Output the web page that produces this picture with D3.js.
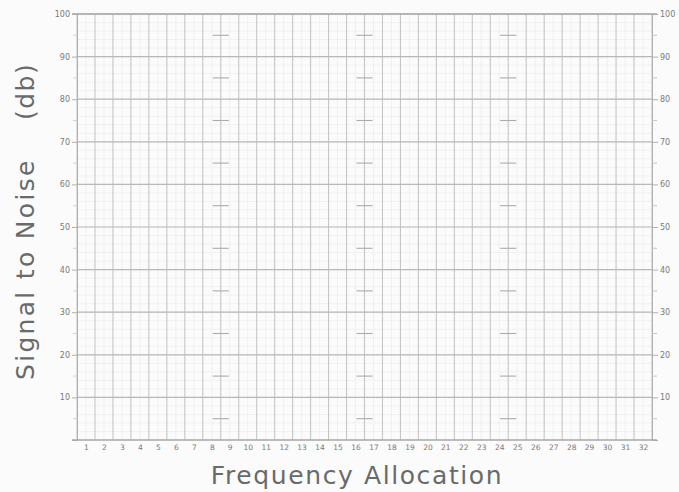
<!DOCTYPE html>
<html>
<head>
<meta charset="utf-8">
<script src="https://cdn.jsdelivr.net/npm/d3@7"></script>
<style>
  html, body { margin: 0; padding: 0; background: #fbfbfb; }
  svg { display: block; }
</style>
</head>
<body>
<div id="chart"></div>
<script>
// chart values
var channels = [1, 2, 3, 4, 5, 6, 7, 8, 9, 10, 11, 12, 13, 14, 15, 16,
                17, 18, 19, 20, 21, 22, 23, 24, 25, 26, 27, 28, 29, 30, 31, 32];
var dbTicks = [10, 20, 30, 40, 50, 60, 70, 80, 90, 100];
var dbMinorTicks = [5, 15, 25, 35, 45, 55, 65, 75, 85, 95];
var markerChannels = [8, 16, 24];   // dashes sit on the line after these channels
var xTitle = "Frequency Allocation";
var yTitle = "Signal to Noise";
var yUnit = "(db)";

var width = 679, height = 492;
var margin = {top: 14, right: 27, bottom: 52, left: 77};

var x = d3.scaleLinear()
    .domain([0, channels.length])
    .range([margin.left, width - margin.right]);
var y = d3.scaleLinear()
    .domain([0, 100])
    .range([height - margin.bottom, margin.top]);

var svg = d3.select("#chart").append("svg")
    .attr("width", width)
    .attr("height", height)
    .attr("viewBox", [0, 0, width, height]);

var tickFont = "DejaVu Sans, sans-serif";
var ink = "#7a7a7a";

// faint minor grid
var g = svg.append("g");
g.selectAll("line.vminor")
    .data(channels)
    .join("line")
    .attr("x1", d => x(d - 0.5)).attr("x2", d => x(d - 0.5))
    .attr("y1", y(100)).attr("y2", y(0))
    .attr("stroke", "#f0f0f0").attr("stroke-width", 1);
g.selectAll("line.hminor")
    .data(d3.range(0, 100, 2))
    .join("line")
    .attr("x1", x(0)).attr("x2", x(channels.length))
    .attr("y1", d => y(d)).attr("y2", d => y(d))
    .attr("stroke", "#f1f1f1").attr("stroke-width", 1);

// column lines
g.selectAll("line.col")
    .data([0].concat(channels))
    .join("line")
    .attr("x1", d => x(d)).attr("x2", d => x(d))
    .attr("y1", y(100)).attr("y2", y(0))
    .attr("stroke", "#c6c6c6").attr("stroke-width", 1.1);

// decade lines
g.selectAll("line.row")
    .data(dbTicks)
    .join("line")
    .attr("x1", x(0)).attr("x2", x(channels.length))
    .attr("y1", d => y(d)).attr("y2", d => y(d))
    .attr("stroke", "#b8b8b8").attr("stroke-width", 1.2);

// left axis
var left = svg.append("g")
    .attr("transform", `translate(${x(0)},0)`)
    .call(d3.axisLeft(y).tickValues(dbTicks).tickSize(5).tickPadding(2));
left.select(".domain").attr("stroke", "#b0b0b0");
left.selectAll(".tick line").attr("stroke", "#b0b0b0");
left.selectAll("text").attr("fill", ink).style("font", "8px " + tickFont);
left.selectAll("line.minor")
    .data(dbMinorTicks)
    .join("line")
    .attr("x1", -4).attr("x2", 0)
    .attr("y1", d => y(d)).attr("y2", d => y(d))
    .attr("stroke", "#d4d4d4");

// right axis
var right = svg.append("g")
    .attr("transform", `translate(${x(channels.length)},0)`)
    .call(d3.axisRight(y).tickValues(dbTicks).tickSize(6).tickPadding(2));
right.select(".domain").attr("stroke", "#b0b0b0");
right.selectAll(".tick line").attr("stroke", "#b0b0b0");
right.selectAll("text").attr("fill", ink).style("font", "8px " + tickFont);
right.selectAll("line.minor")
    .data(dbMinorTicks)
    .join("line")
    .attr("x1", 0).attr("x2", 5)
    .attr("y1", d => y(d)).attr("y2", d => y(d))
    .attr("stroke", "#c8c8c8");

// bottom axis: labels centred in each column
var bottom = svg.append("g")
    .attr("transform", `translate(0,${y(0)})`)
    .call(d3.axisBottom(x)
        .tickValues(channels.map(d => d - 0.5))
        .tickFormat((d, i) => channels[i])
        .tickSize(0).tickPadding(5));
bottom.select(".domain").remove();
bottom.selectAll("text").attr("fill", ink).style("font", "7.5px " + tickFont);
svg.append("line")
    .attr("x1", x(0) - 5).attr("x2", x(channels.length) + 5)
    .attr("y1", y(0)).attr("y2", y(0))
    .attr("stroke", "#a8a8a8").attr("stroke-width", 1.4);

// top edge
svg.append("line")
    .attr("x1", x(0) - 5).attr("x2", x(channels.length) + 5)
    .attr("y1", y(100)).attr("y2", y(100))
    .attr("stroke", "#a8a8a8").attr("stroke-width", 1.3);

// dashes at the half decades on the marker lines
var dashes = [];
markerChannels.forEach(c => dbMinorTicks.forEach(v => dashes.push({c: c, v: v})));
svg.append("g").selectAll("line")
    .data(dashes)
    .join("line")
    .attr("x1", d => x(d.c) - 8).attr("x2", d => x(d.c) + 8)
    .attr("y1", d => y(d.v)).attr("y2", d => y(d.v))
    .attr("stroke", "#ababab").attr("stroke-width", 1.1);

// titles
var titleFont = "DejaVu Sans, sans-serif";
svg.append("text")
    .attr("x", 357)
    .attr("y", 484)
    .attr("text-anchor", "middle")
    .attr("fill", "#6a6a6a")
    .style("font", "25px " + titleFont)
    .style("letter-spacing", "1.6px")
    .text(xTitle);

svg.append("text")
    .attr("transform", "translate(34,380) rotate(-90)")
    .attr("text-anchor", "start")
    .attr("fill", "#6a6a6a")
    .style("font", "25px " + titleFont)
    .style("letter-spacing", "2.3px")
    .text(yTitle);

svg.append("text")
    .attr("transform", "translate(34,120) rotate(-90)")
    .attr("text-anchor", "start")
    .attr("fill", "#6a6a6a")
    .style("font", "25px " + titleFont)
    .style("letter-spacing", "1.5px")
    .text(yUnit);
</script>
</body>
</html>
